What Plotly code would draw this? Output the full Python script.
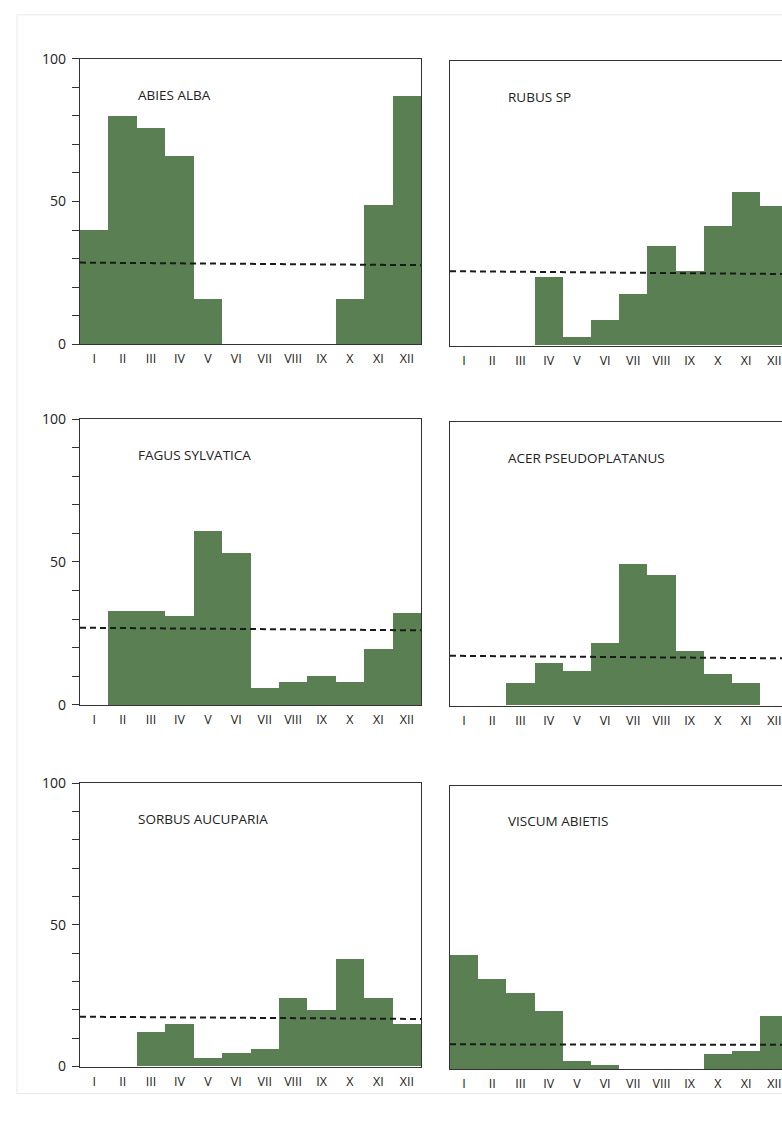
import plotly.graph_objects as go

months = ["I", "II", "III", "IV", "V", "VI", "VII", "VIII", "IX", "X", "XI", "XII"]

abies_alba = [40, 80, 76, 66, 16, 0, 0, 0, 0, 16, 49, 87]
rubus_sp = [0, 0, 0, 24, 3, 9, 18, 35, 26, 42, 54, 49]
fagus_sylvatica = [0, 33, 33, 31, 61, 53, 6, 8, 10, 8, 19.5, 32]
acer_pseudoplatanus = [0, 0, 8, 15, 12, 22, 50, 46, 19, 11, 8, 0]
sorbus_aucuparia = [0, 0, 12, 15, 3, 4.5, 6, 24, 20, 38, 24, 15]
viscum_abietis = [40.5, 32, 27, 20.5, 3, 1.5, 0, 0, 0, 5.5, 6.5, 19]

# dashed reference line: value at left and right edge of each panel
ref_abies = [28.6, 27.7]
ref_rubus = [26.2, 25.2]
ref_fagus = [27.0, 26.1]
ref_acer = [17.6, 16.7]
ref_sorbus = [17.6, 16.8]
ref_viscum = [8.8, 8.6]

panels = [
    ("ABIES ALBA", abies_alba, ref_abies),
    ("RUBUS SP", rubus_sp, ref_rubus),
    ("FAGUS SYLVATICA", fagus_sylvatica, ref_fagus),
    ("ACER PSEUDOPLATANUS", acer_pseudoplatanus, ref_acer),
    ("SORBUS AUCUPARIA", sorbus_aucuparia, ref_sorbus),
    ("VISCUM ABIETIS", viscum_abietis, ref_viscum),
]

W, H = 782, 1123
GREEN = "#5a7f52"
LINE = "#333333"
FONT = "Open Sans"


def vy(y):
    # map a target page row to the figure's own pixel row
    return (y - 8.2) / 0.9833


# pixel geometry of each panel: (x0, x1, ytop, ybottom)
geo = [
    (80, 421, 57, 342.5),
    (450, 782, 59.5, 344),
    (80, 421, 417.3, 703.3),
    (450, 782, 420.7, 704),
    (80, 421, 781.7, 1065),
    (450, 782, 784, 1067.7),
]

fig = go.Figure()
xpos = list(range(1, 13))

for i, (name, vals, ref) in enumerate(panels):
    n = i + 1
    xa = "x" if n == 1 else f"x{n}"
    ya = "y" if n == 1 else f"y{n}"
    fig.add_trace(go.Bar(x=xpos, y=vals, width=1, marker=dict(color=GREEN, line=dict(width=0)),
                         xaxis=xa, yaxis=ya, showlegend=False, hoverinfo="skip"))
    fig.add_trace(go.Scatter(x=[0.5, 12.5], y=ref, mode="lines",
                             line=dict(color="#1a1a1a", width=2, dash="6px,4px"),
                             xaxis=xa, yaxis=ya, showlegend=False, hoverinfo="skip"))
    x0, x1, yt, yb = geo[i]
    left = (i % 2 == 0)
    xr_end = 12.5 if left else 0.5 + (782 - 450) / 28.2
    xkey = "xaxis" if n == 1 else f"xaxis{n}"
    ykey = "yaxis" if n == 1 else f"yaxis{n}"
    fig.layout[xkey] = dict(
        domain=[x0 / W, x1 / W], range=[0.5, xr_end], anchor=ya,
        tickvals=xpos, ticktext=months, ticks="", ticklabelstandoff=3,
        ticklabeloverflow="allow",
        tickfont=dict(family=FONT, size=12.5, color="#222"),
        showgrid=False, zeroline=False, showline=True, linecolor=LINE, linewidth=1.3,
        mirror=True, fixedrange=True,
    )
    ydom = [1 - vy(yb) / H, 1 - vy(yt) / H]
    if left:
        fig.layout[ykey] = dict(
            domain=ydom, range=[0, 100], anchor=xa,
            tickvals=list(range(0, 101, 10)),
            ticktext=["0", "", "", "", "", "50", "", "", "", "", "100"],
            ticks="outside", ticklen=7, tickcolor=LINE, tickwidth=1,
            ticklabelstandoff=3,
            tickfont=dict(family=FONT, size=14, color="#222"),
            showgrid=False, zeroline=False, showline=True, linecolor=LINE, linewidth=1.3,
            mirror=True, fixedrange=True,
        )
    else:
        fig.layout[ykey] = dict(
            domain=ydom, range=[0, 100], anchor=xa,
            showticklabels=False, ticks="",
            showgrid=False, zeroline=False, showline=True, linecolor=LINE, linewidth=1.3,
            mirror=False, fixedrange=True,
        )
    fig.add_annotation(text=name, xref=f"{xa} domain", yref=f"{ya} domain",
                       x=0.164 if left else 0.164 * 341 / 332, y=0.874,
                       xanchor="left", yanchor="middle", showarrow=False,
                       font=dict(family=FONT, size=13.5, color="#222"))

# faint page border
fig.add_shape(type="rect", xref="paper", yref="paper",
              x0=17 / W, x1=1.02, y0=1 - vy(1092) / H, y1=1 - vy(13) / H,
              line=dict(color="#e8e8e8", width=1), layer="below")

fig.update_layout(width=W, height=H, margin=dict(l=0, r=0, t=0, b=0),
                  paper_bgcolor="white", plot_bgcolor="white", bargap=0)

post = (
    "document.documentElement.style.margin='0';"
    "document.documentElement.style.overflow='hidden';"
    "document.body.style.margin='0';"
    "document.body.style.overflow='hidden';"
    "var d=document.querySelector('.plotly-graph-div');"
    "d.style.position='absolute';d.style.top='0px';d.style.left='0px';"
)
fig.write_html("out.html", config={"displayModeBar": False}, post_script=post)
